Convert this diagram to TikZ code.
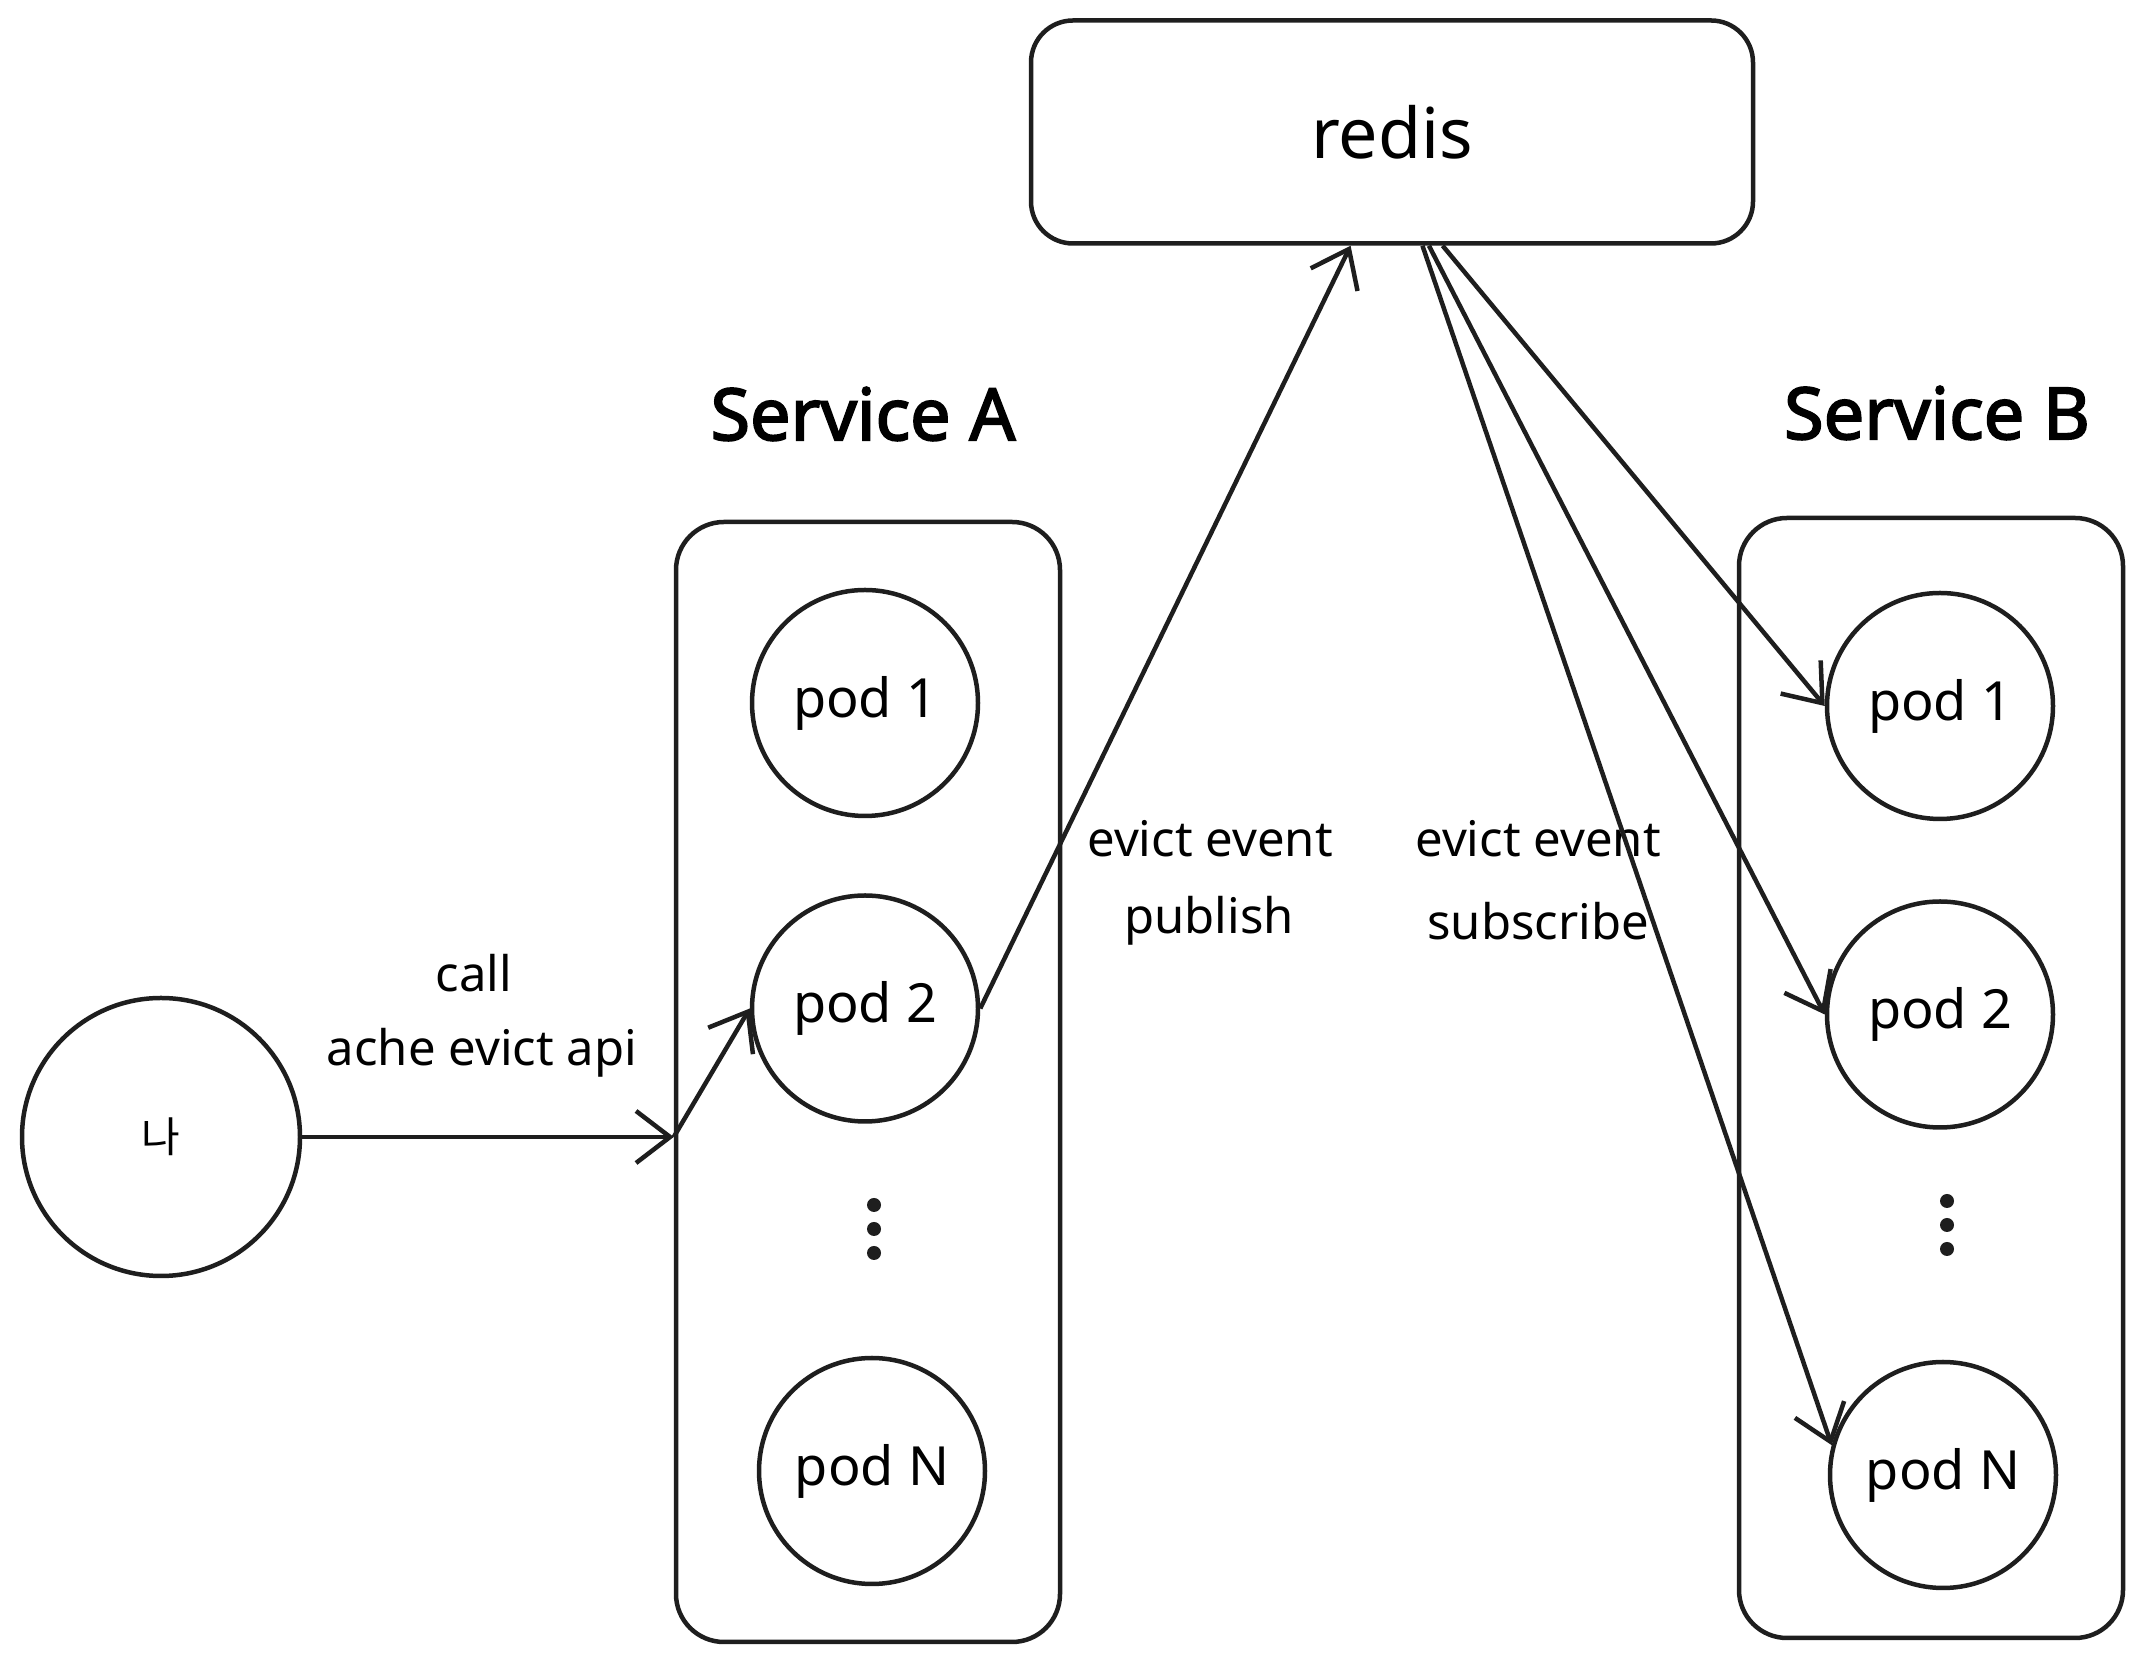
\documentclass[tikz,border=0pt]{standalone}
\usepackage{fontspec}
\setmainfont{Noto Sans}
\newfontfamily\krfont{Noto Sans CJK KR}
\newfontfamily\heavyfont{Noto Sans}[FakeBold=2.5]
\usetikzlibrary{positioning,arrows.meta}
\definecolor{ink}{HTML}{1E1E1E}

\begin{document}
\begin{tikzpicture}[
  x=1pt,y=1pt,
  line width=4.5pt,
  pod/.style={draw=ink,circle,minimum size=226pt,inner sep=0pt,font=\fontsize{54}{62}\selectfont},
  client/.style={draw=ink,circle,minimum size=278pt,inner sep=0pt,font=\fontsize{42}{48}\selectfont},
  store/.style={draw=ink,rounded corners=42pt,minimum width=722pt,minimum height=223pt,font=\fontsize{70}{80}\selectfont},
  svcbox/.style={draw=ink,rounded corners=48pt,minimum width=384pt,minimum height=1120pt},
  svclabel/.style={font=\fontsize{72}{82}\selectfont\heavyfont},
  note/.style={font=\fontsize{49}{56}\selectfont},
  flow/.style={draw=ink,-{Straight Barb[length=34pt,width=52pt]}}
]
\useasboundingbox (0,0) rectangle (2142,1662);
% redis and the two services
\node[store] (redis) at (1392,1530) {redis};
\node[svcbox] (svcA) at (868,580) {};
\node[svcbox] (svcB) at (1931,584) {};
\node[svclabel] (labA) at (863,1248) {Service A};
\node[svclabel] (labB) at (1937,1249) {Service B};
% pods
\node[pod] (pA1) at (865,959) {pod 1};
\node[pod,below=75pt of pA1] (pA2) {pod 2};
\node[pod] (pAN) at (872,191) {pod N};
\node[pod] (pB1) at (1940,956) {pod 1};
\node[pod,below=78pt of pB1] (pB2) {pod 2};
\node[pod] (pBN) at (1943,187) {pod N};
\foreach \d in {-24,0,24} {
  \fill[ink] (874,433+\d) circle (7pt);
  \fill[ink] (1947,437+\d) circle (7pt);
}
% caller
\node[client] (me) at (161,525) {\krfont 나};
\node[note] (call) at (474,689) {call};
\node[note] (api) at (482,609) {ache evict api};
\node[note] (evpub) at (1210,823) {evict event};
\node[note] (pub) at (1209,741) {publish};
\node[note] (evsub) at (1538,823) {evict event};
\node[note] (sub) at (1538,741) {subscribe};
\coordinate (entry) at (svcA.west |- me.east);
\draw[flow] (me) -- (entry);
\draw[flow] (entry) -- (pA2.west);
\draw[flow] (pA2.east) -- (redis.250);
\draw[flow] (redis.294) -- (pB1.west);
\draw[flow] (redis.288) -- (pB2.west);
\draw[flow] (redis.285) -- (pBN.165);
\end{tikzpicture}
\end{document}
